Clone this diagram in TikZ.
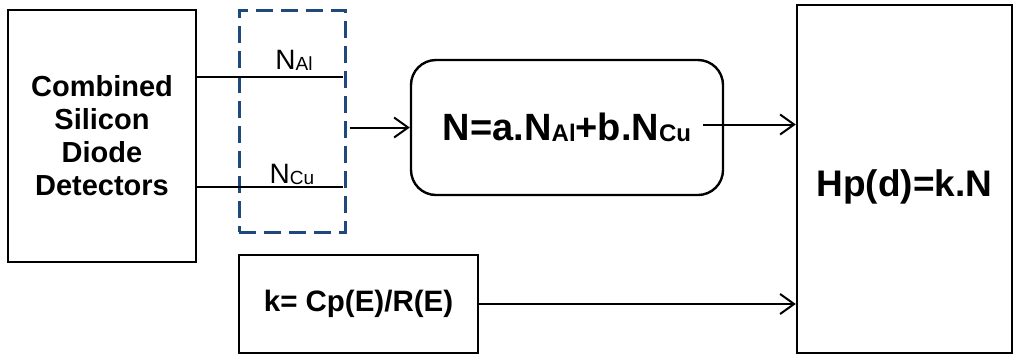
\documentclass[tikz,border=0pt]{standalone}
\usepackage{fontspec}
\setmainfont{Liberation Sans}
\usepackage{tikz}
\usetikzlibrary{arrows.meta}
\usetikzlibrary{positioning}
\definecolor{dashblue}{RGB}{31,73,125}
\newcommand{\lowsub}[2]{\raisebox{-1.5pt}{\fontsize{#1}{#1}\selectfont #2}}
\tikzset{%
  >={Straight Barb[length=14pt,width=20pt]},
  % Specifications for style of nodes:
            base/.style = {rectangle, draw=black, line width=2.4pt,
                           text centered, inner sep=0pt},
         detector/.style = {base, minimum width=188pt, minimum height=252pt,
                           align=center,
                           font=\fontsize{29}{33}\selectfont\bfseries},
        groupbox/.style = {rectangle, draw=dashblue, line width=3pt,
                           dash pattern=on 17pt off 8pt,
                           minimum width=106pt, minimum height=222pt},
         formula/.style = {base, rounded corners=25pt,
                           minimum width=312pt, minimum height=135pt,
                           font=\fontsize{38}{44}\selectfont\bfseries},
          result/.style = {base, minimum width=215pt, minimum height=348pt},
         factor/.style = {base, minimum width=239pt, minimum height=98pt,
                           font=\fontsize{29.5}{34}\selectfont\bfseries},
        sigtext/.style = {font=\fontsize{28}{30}\selectfont, anchor=base},
           flow/.style = {->, line width=2pt},
           wire/.style = {line width=2pt},
}

\begin{document}
\begin{tikzpicture}[x=1pt, y=-1pt]
\useasboundingbox (0,0) rectangle (1016,357);

\node (Det)   [detector] at (102,136)   {Combined\\Silicon\\Diode\\Detectors};

\node (Group) [groupbox] at (292,121)   {};

\node (Eq)    [formula]  at (567,127.5)
      {N=a.N\lowsub{24}{Al}+b.N\lowsub{24}{Cu}};

\node (Hp)    [result]   at (904.5,179) {};
\node (HpTxt) [font=\fontsize{37}{42}\selectfont\bfseries]
      at ([yshift=-8pt]Hp.center) {Hp(d)=k.N};

\node (K)     [factor]   at (358.5,304) {k= Cp(E)/R(E)};

\coordinate (AlEnd) at (343,77);
\coordinate (CuEnd) at (343,187);

\node (AlTxt) [sigtext] at (294,69)  {N\lowsub{19}{Al}};
\node (CuTxt) [sigtext] at (292,183) {N\lowsub{19}{Cu}};

\draw[wire]  (Det.east |- AlEnd) -- (AlEnd);
\draw[wire]  (Det.east |- CuEnd) -- (CuEnd);
\draw[flow]  ([xshift=3pt]Group.east |- Eq.west) -- (Eq.west);
\draw[flow]  ([xshift=-21pt,yshift=3pt]Eq.east) -- (Hp.west |- 0,124.5);
\draw[flow]  (K.east) -- (Hp.west |- K.east);
\end{tikzpicture}
\end{document}
